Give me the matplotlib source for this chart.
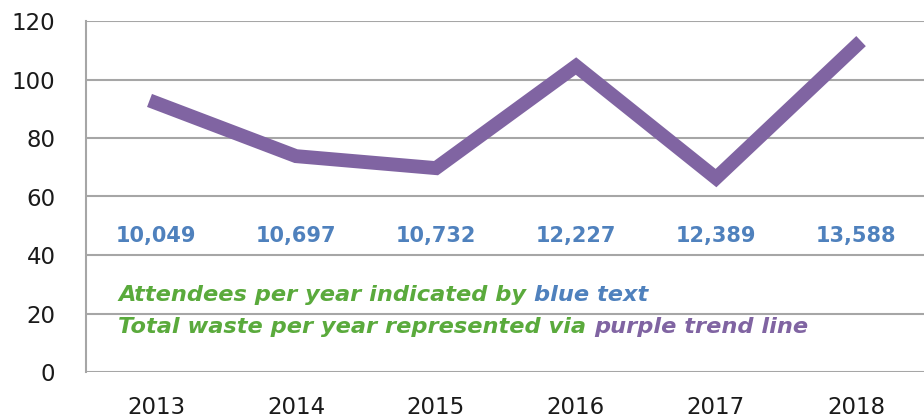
import matplotlib
matplotlib.use("Agg")
import matplotlib.pyplot as plt

years = ["2013", "2014", "2015", "2016", "2017", "2018"]
waste = [92, 73.8, 69.7, 104.6, 66.3, 111.5]
attendees = ["10,049", "10,697", "10,732", "12,227", "12,389", "13,588"]
yticks = [0, 20, 40, 60, 80, 100, 120]

PURPLE = "#8064A2"
BLUE = "#4F81BD"
GREEN = "#5AAA3C"
GRID = "#A6A6A6"

plt.rcParams['font.family'] = ['DejaVu Sans']
fig = plt.figure(figsize=(9.24, 4.19), dpi=100)
ax = fig.add_axes([86/924, 47/419, 840/924, 351/419])

x = list(range(len(years)))
ax.plot(x, waste, color=PURPLE, lw=10, solid_capstyle='projecting', solid_joinstyle='miter', zorder=3)

ax.set_xlim(-0.5, 5.5)
ax.set_ylim(0, 120)
ax.set_yticks(yticks)
ax.set_yticklabels([str(v) for v in yticks], fontsize=16.5, color="#1a1a1a")
ax.set_xticks(x)
ax.set_xticklabels(years, fontsize=16.5, color="#1a1a1a")
ax.tick_params(axis='both', length=0)
ax.tick_params(axis='x', pad=17)
ax.tick_params(axis='y', pad=22)
for s in ["top", "right", "bottom"]:
    ax.spines[s].set_visible(False)
ax.spines["left"].set_color(GRID)
ax.spines["left"].set_linewidth(1.5)
ax.yaxis.grid(True, color=GRID, lw=1.5)
ax.set_axisbelow(True)

for xi, lab in zip(x, attendees):
    ax.text(xi, 46.5, lab, ha='center', va='center', fontsize=15,
            fontweight='bold', color=BLUE)

def rich_line(parts, x0, y0):
    fig.canvas.draw()
    r = fig.canvas.get_renderer()
    xpos = x0
    for txt, col in parts:
        t = fig.text(xpos, y0, txt, color=col, fontsize=16.2, fontweight='bold',
                     style='italic', ha='left', va='center')
        bb = t.get_window_extent(renderer=r)
        xpos += bb.width / fig.bbox.width

rich_line([("Attendees per year indicated by ", GREEN), ("blue text", BLUE)],
          118/924, 1 - 295/419)
rich_line([("Total waste per year represented via ", GREEN), ("purple trend line", PURPLE)],
          118/924, 1 - 327/419)

fig.savefig("out.png", dpi=100)
